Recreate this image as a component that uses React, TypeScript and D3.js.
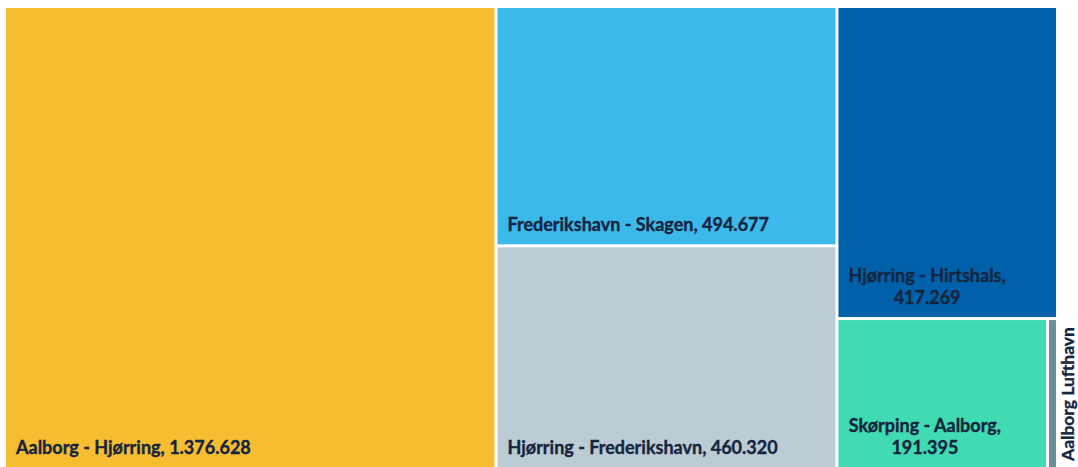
import React from 'react';
import * as d3 from 'd3';

const routes = [
  'Aalborg - Hjørring',
  'Frederikshavn - Skagen',
  'Hjørring - Frederikshavn',
  'Hjørring - Hirtshals',
  'Skørping - Aalborg',
  'Aalborg Lufthavn',
];
const passengers = [1376628, 494677, 460320, 417269, 191395, 9100];
const colors = ['#F5BD2F', '#3CB9EB', '#BCCCD5', '#0061AA', '#40DBB2', '#6E8C9B'];
const showValue = [true, true, true, true, true, false];

const width = 1078;
const height = 467;
const margin = { top: 8, right: 22, bottom: 0, left: 6 };
const innerWidth = width - margin.left - margin.right;
const innerHeight = height - margin.top - margin.bottom;

const FONT = '"Lato", "DejaVu Sans", sans-serif';
const FONT_SIZE = 18;
const LABEL = '#15253F';

const dk = d3.formatLocale({ decimal: ',', thousands: '.', grouping: [3], currency: ['', ' kr.'] });
const fmt = dk.format(',d');

let ctx: CanvasRenderingContext2D | null = null;
const measure = (s: string) => {
  if (!ctx) {
    ctx = document.createElement('canvas').getContext('2d');
  }
  if (!ctx) return s.length * FONT_SIZE * 0.5;
  ctx.font = `bold ${FONT_SIZE}px Lato`;
  return ctx.measureText(s).width;
};

const App: React.FC = () => {
  const data = routes.map((name, i) => ({
    name,
    value: passengers[i],
    color: colors[i],
    showValue: showValue[i],
  }));

  const root = d3
    .hierarchy<any>({ name: 'root', children: data })
    .sum((d: any) => d.value || 0);

  d3.treemap<any>()
    .tile(d3.treemapSquarify)
    .size([innerWidth, innerHeight])
    .paddingInner(3)
    .round(false)(root);

  const leaves = root.leaves() as d3.HierarchyRectangularNode<any>[];
  const lineHeight = 22;

  return (
    <div style={{ position: 'absolute', left: 0, top: 0 }}>
      <svg width={width} height={height} style={{ display: 'block', fontFamily: FONT }}>
        <rect width={width} height={height} fill="#ffffff" />
        <g transform={`translate(${margin.left},${margin.top})`}>
          {leaves.map((d, i) => (
            <rect
              key={'r' + i}
              x={d.x0}
              y={d.y0}
              width={d.x1 - d.x0}
              height={d.y1 - d.y0}
              fill={d.data.color}
            />
          ))}
          {leaves.map((d, i) => {
            const w = d.x1 - d.x0;
            const name = d.data.name;
            // narrow cells: rotated label outside on the right
            if (w < 30) {
              return (
                <text
                  key={'t' + i}
                  transform={`translate(${d.x1 + 18},${d.y1 - 6}) rotate(-90)`}
                  fill={LABEL}
                  stroke={LABEL}
                  strokeWidth={0.35}
                  fontWeight="bold"
                  fontSize={FONT_SIZE - 0.5}
                >
                  {name}
                </text>
              );
            }
            const full = d.data.showValue ? `${name}, ${fmt(d.data.value)}` : name;
            let lines = [full];
            if (measure(full) > w - 20) {
              lines = [`${name},`, fmt(d.data.value)];
            }
            const blockW = Math.max(...lines.map(measure));
            const cx = d.x0 + 10 + blockW / 2;
            const lastY = d.y1 - 13;
            return (
              <text
                key={'t' + i}
                fill={LABEL}
                fontWeight="bold"
                fontSize={FONT_SIZE}
                stroke={LABEL}
                strokeWidth={0.35}
                textAnchor={lines.length > 1 ? 'middle' : 'start'}
              >
                {lines.map((l, j) => (
                  <tspan
                    key={j}
                    x={lines.length > 1 ? cx : d.x0 + 10}
                    y={lastY - (lines.length - 1 - j) * lineHeight}
                  >
                    {l}
                  </tspan>
                ))}
              </text>
            );
          })}
        </g>
      </svg>
    </div>
  );
};

export default App;
